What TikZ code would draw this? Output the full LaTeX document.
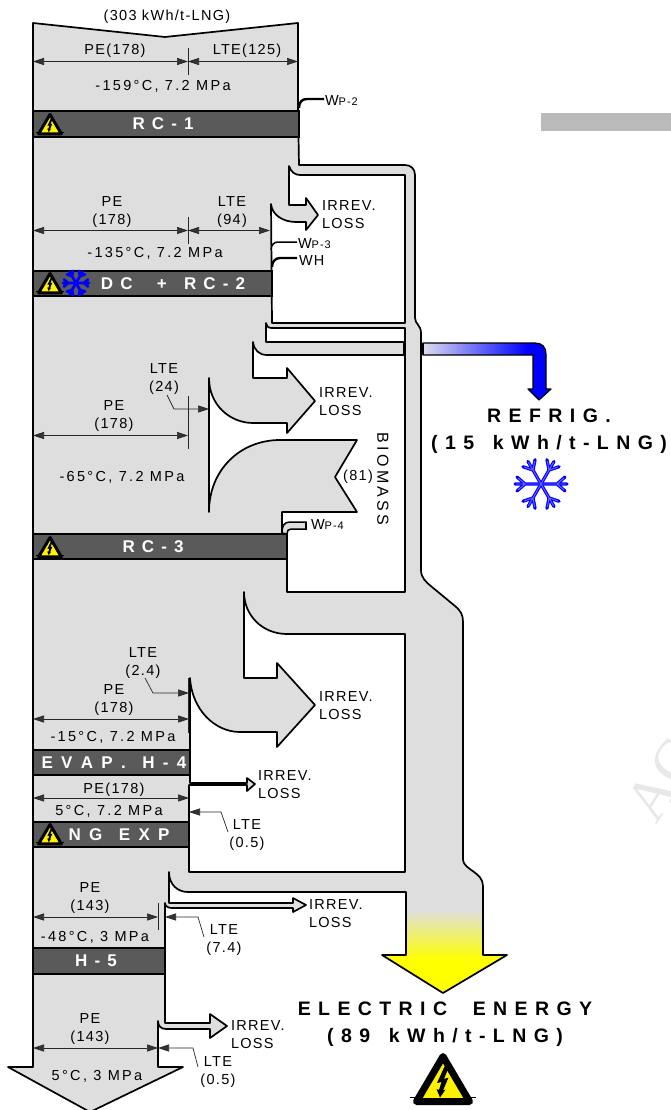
\documentclass[tikz,border=0pt]{standalone}
\usepackage{fontspec}
\setmainfont{Liberation Sans}
\newfontfamily\lsA[LetterSpace=9]{Liberation Sans}
\newfontfamily\lsD[LetterSpace=16]{Liberation Sans}
\newfontfamily\lsF[LetterSpace=20]{Liberation Sans}
\newfontfamily\lsB[LetterSpace=14]{Liberation Sans Bold}
\newfontfamily\lsC[LetterSpace=38]{Liberation Sans Bold}
\newfontfamily\lsE[LetterSpace=21]{Liberation Sans Bold}
\newfontfamily\wmk{Liberation Serif}
\usetikzlibrary{arrows.meta}
\definecolor{flow}{HTML}{DEDEDE}
\definecolor{barc}{HTML}{5A5A5A}
\definecolor{tipc}{HTML}{333333}
\definecolor{paleb}{HTML}{DDDDEE}
\pgfdeclarehorizontalshading{refrigshade}{100bp}{color(0bp)=(paleb); color(25bp)=(paleb); color(66bp)=(blue); color(100bp)=(blue)}
\pgfdeclareverticalshading{elecshade}{100bp}{color(0bp)=(yellow); color(45bp)=(yellow); color(75bp)=(flow); color(100bp)=(flow)}
\tikzset{
  outl/.style={draw=black,line width=1.7pt,line join=round},
  barbox/.style={draw=black,line width=1.7pt,fill=barc},
  bartxt/.style={inner sep=0,outer sep=0,yshift=-1pt,text=white,font=\lsB\fontsize{17}{18}\selectfont},
  txt/.style={inner sep=0,outer sep=0,yshift=-1.5pt,align=center,font=\lsA\fontsize{14.5}{18}\selectfont},
  temp/.style={inner sep=0,outer sep=0,yshift=-1.5pt,font=\lsD\fontsize{14.5}{18}\selectfont},
  irr/.style={inner sep=0,outer sep=0,yshift=-1pt,align=left,anchor=west,font=\lsA\fontsize{14.5}{18}\selectfont},
  wtxt/.style={inner sep=0,outer sep=0,yshift=-1pt,anchor=west,font=\lsA\fontsize{14.5}{16}\selectfont},
  bigtxt/.style={inner sep=0,outer sep=0,yshift=-2pt,font=\lsC\fontsize{19.5}{20}\selectfont},
  dim/.style={draw=black!85,line width=.7pt},
  dima/.style={dim,{Triangle[length=11pt,width=7pt,fill=tipc]}-{Triangle[length=11pt,width=7pt,fill=tipc]}},
  lead/.style={dim,-{Triangle[length=11pt,width=7pt,fill=tipc]}},
  pipe/.style={draw=black,line width=2.4pt},
  pipet/.style={draw=black,line width=1.5pt}
}
\newcommand{\warnicon}[3]{%
\begin{scope}[shift={(#1,#2)},scale=#3]
 \draw[black,line width=#3*0.7pt] (-33,15) -- (33,15);
 \draw[fill=yellow,draw=black,line width=#3*7pt,line join=round] (0,-25.5) -- (-26.5,19.5) -- (26.5,19.5) -- cycle;
 \fill[black] (1.5,-15.5) -- (-6,1) -- (-1.5,0) -- (-4,8) -- (-6.5,7) -- (-3,15.5) -- (2.5,7.5) -- (0,8.5) -- (5.5,-4.5) -- (1,-3) -- (6,-15.5) -- cycle;
\end{scope}}
\newcommand{\flakeicon}[5]{%
\begin{scope}[shift={(#1,#2)},scale=#3]
 \foreach \a in {0,60,...,300}{
  \draw[blue,line width=#4*1pt,line cap=round,rotate=\a] (0,0) -- (26,0) (16,0) -- (24,-7) (16,0) -- (24,7);
 }
 \foreach \a in {0,60,...,300}{
  \draw[#5,line width=#4*.3pt,rotate=\a] (0,0) -- (25,0) (16,0) -- (23,-6) (16,0) -- (23,6);
 }
\end{scope}}
\begin{document}
\begin{tikzpicture}[x=1pt,y=-1pt]
\useasboundingbox (0,0) rectangle (671,1110);
% watermark & grey strip
\begin{scope}
 \clip (0,0) rectangle (671,1110);
 \node[rotate=57,inner sep=0,text=black!9,font=\wmk\fontsize{60}{62}\selectfont] (wm) at (663,780) {AC};
\end{scope}
\fill[black!27] (541,113) rectangle (671,131);
% main flow
\def\outerpath{(33,23) -- (165,37) -- (298,23) -- (298,108) -- (299,165) -- (405,165) .. controls (411,165) and (415,169) .. (415,175)
 -- (415,318) .. controls (415,324) and (421,325) .. (421,333) -- (421,570) .. controls (421,578) and (426,582) .. (432,587)
 -- (455,606) .. controls (461,611) and (463,615) .. (463,622) -- (463,860) .. controls (464,870) and (483,872) .. (483,886)
 -- (483,955) -- (507,955) -- (443,993) -- (382,955) -- (406,955) -- (406,892) -- (188,892) .. controls (178,892) and (169,885) .. (169,872)
 -- (169,903) -- (293,903) -- (293,898) -- (306,905) -- (293,912) -- (293,908) -- (172,908) .. controls (168,908) and (165,906) .. (165,903)
 -- (165,1023) -- (210,1023) -- (210,1014) -- (227,1026) -- (210,1038) -- (210,1029) -- (166,1029) .. controls (161,1029) and (158,1026) .. (158,1021)
 -- (158,1067) -- (183,1067) -- (90,1112) -- (8,1067) -- (33,1067) -- cycle}
\fill[flow] \outerpath;
\shade[shading=elecshade] (406,910) -- (406,955) -- (382,955) -- (443,993) -- (507,955) -- (483,955) -- (483,910) -- cycle;
\draw[outl] \outerpath;
% white islands
\draw[outl,fill=white] (289,166) .. controls (291,172) and (295,175) .. (300,175) -- (405,175) -- (405,323) -- (272,323) -- (271,204)
 .. controls (272,215) and (283,222) .. (296,222) -- (306,222) -- (306,230) -- (318,215) -- (306,198) -- (306,205) -- (289,205) -- cycle;
\draw[outl,fill=white] (266,323) .. controls (266,326) and (268,328) .. (272,328) -- (405,328) -- (405,342) -- (266,342) -- cycle;
\draw[outl,fill=white] (253,342) .. controls (254,350) and (259,355) .. (267,355) -- (405,355) -- (405,592) -- (287,592) -- (287,534) -- (282,534) -- (282,512)
 -- (357,512) -- (335,477) -- (357,440) -- (280,440) .. controls (240,440) and (209,470) .. (209,512) -- (209,378)
 .. controls (209,405) and (230,423) .. (253,423) -- (287,423) -- (287,433) -- (315,401) -- (287,368) -- (287,378) -- (253,378) -- cycle;
\draw[outl,fill=white] (244,592) .. controls (244,615) and (262,634) .. (287,634) -- (405,634) -- (405,872) -- (189,872) -- (189,785) -- (247,785) -- (247,791)
 -- (255,784) -- (247,778) -- (247,783) -- (190,783) -- (190,678) .. controls (192,710) and (215,732) .. (240,732) -- (277,732) -- (277,747)
 -- (315,705) -- (277,663) -- (277,678) -- (244,678) -- cycle;
% joints on the band
\draw[black,line width=3pt] (404,342) -- (404,355);
% refrigeration stream
\path[shading=refrigshade,draw=black,line width=1.2pt,line join=round] (423,343) -- (535,343) .. controls (542,343) and (546,347) .. (546,354) -- (546,389) -- (551,389)
 -- (539,400) -- (528,389) -- (533,389) -- (533,355) -- (423,355) -- cycle;
\draw[black,line width=3pt] (422,343) -- (422,355);
% bars
\draw[barbox] (33,111) rectangle (299,137);
\draw[barbox] (33,271) rectangle (272,296);
\draw[barbox] (33,534) rectangle (287,559);
\draw[barbox] (33,750) rectangle (190,775);
\draw[barbox] (33,822) rectangle (189,847);
\draw[barbox] (33,948) rectangle (165,974);
% power / small pipes
\draw[pipe] (299,108) .. controls (299,102) and (302,99) .. (307,99) -- (324,99);
\draw[pipet] (271,250) .. controls (271,245) and (274,242) .. (278,242) -- (297,242);
\draw[pipe] (272,267) .. controls (272,262) and (275,258) .. (280,258) -- (297,258);
\draw[pipet,fill=flow] (282,533) .. controls (282,526) and (284,522) .. (290,522) -- (306,522) -- (306,529) -- (291,529) .. controls (288,529) and (287,531) .. (287,534) -- cycle;
\draw[black,line width=2pt] (306,522) -- (306,529);
% dimension lines
\draw[dima] (33,61.5) -- (188,61.5); \draw[dima] (188,61.5) -- (298,61.5); \draw[dim] (188,48) -- (188,75);
\draw[dima] (33,230.5) -- (188,230.5); \draw[dima] (188,230.5) -- (270,230.5); \draw[dim] (188,217) -- (188,244);
\draw[dima] (33,435.5) -- (188,435.5); \draw[dim] (188,396) -- (188,449);
\draw[lead] (167,395) -- (174,409) -- (209,409);
\draw[dima] (33,719) -- (189,719); \draw[dim] (188.5,678) -- (188.5,733);
\draw[lead] (145,678) -- (153,693) -- (189,693);
\draw[dima] (33,798) -- (189,798);
\draw[lead] (228,832) -- (221,812) -- (189,812);
\draw[dima] (33,917) -- (158,917); \draw[dim] (158,903) -- (158,930);
\draw[lead] (204,937) -- (198,917) -- (165,917);
\draw[dima] (33,1048) -- (158,1048);
\draw[lead] (198,1067) -- (193,1048) -- (158,1048);
% texts
\node[txt] (t01) at (167,15) {(303 kWh/t-LNG)};
\node[txt] (t02) at (115,49) {PE(178)};
\node[txt] (t03) at (247,49) {LTE(125)};
\node[temp] (t04) at (163,85) {-159°C, 7.2 MPa};
\node[wtxt] (t05) at (325,100) {W{\fontsize{11}{12}\selectfont P-2}};
\node[bartxt] (t06) at (163,123) {R C - 1};
\node[txt] (t07) at (112,210.5) {PE\\(178)};
\node[txt] (t08) at (232,210.5) {LTE\\(94)};
\node[irr] (t09) at (322,214) {IRREV.\\LOSS};
\node[wtxt] (t10) at (298,243) {W{\fontsize{11}{12}\selectfont P-3}};
\node[wtxt] (t11) at (299,260) {WH};
\node[temp] (t12) at (155,252) {-135°C, 7.2 MPa};
\node[bartxt] (t13) at (173,283) {D C\ \ \ \hspace{3pt}+\ \ \hspace{3pt}R C - 2};
\node[txt] (t14) at (164,378) {LTE\\(24)};
\node[txt] (t15) at (114,415) {PE\\(178)};
\node[irr] (t16) at (319,400.5) {IRREV.\\LOSS};
\node[temp] (t17) at (122,476) {-65°C, 7.2 MPa};
\node[txt] (t18) at (358,475) {(81)};
\node[rotate=-90,inner sep=0,font=\lsF\fontsize{16}{18}\selectfont] (t19) at (383,479) {BIOMASS};
\node[wtxt] (t20) at (311,524) {W{\fontsize{11}{12}\selectfont P-4}};
\node[bartxt] (t21) at (153,546) {R C - 3};
\node[txt] (t22) at (143,662) {LTE\\(2.4)};
\node[txt] (t23) at (114,699) {PE\\(178)};
\node[irr] (t24) at (319,705) {IRREV.\\LOSS};
\node[temp] (t25) at (113,736) {-15°C, 7.2 MPa};
\node[bartxt,font=\lsE\fontsize{17}{18}\selectfont] (t26) at (114,762) {E V A P .\ \ H - 4};
\node[irr] (t27) at (258,784) {IRREV.\\LOSS};
\node[txt] (t28) at (114,788) {PE(178)};
\node[temp] (t29) at (109,810) {5°C, 7.2 MPa};
\node[txt] (t30) at (247,834) {LTE\\(0.5)};
\node[bartxt,font=\lsE\fontsize{17}{18}\selectfont] (t31) at (119,834) {N G\ \ E X P};
\node[txt] (t32) at (90,897) {PE\\(143)};
\node[irr] (t33) at (309,912.5) {IRREV.\\LOSS};
\node[temp] (t34) at (95,936) {-48°C, 3 MPa};
\node[txt] (t35) at (224,939) {LTE\\(7.4)};
\node[bartxt] (t36) at (96,960) {H - 5};
\node[txt] (t37) at (90,1028) {PE\\(143)};
\node[irr] (t38) at (231,1033.5) {IRREV.\\LOSS};
\node[txt] (t39) at (218,1070) {LTE\\(0.5)};
\node[temp] (t40) at (97,1075) {5°C, 3 MPa};
\node[bigtxt] (t41) at (445,1007) {ELECTRIC\ \ ENERGY};
\node[bigtxt] (t42) at (445,1035) {(89\hspace{6pt} kWh/t-LNG)};
\node[bigtxt] (t43) at (549,414) {REFRIG.};
\node[bigtxt] (t44) at (549,442) {(15\hspace{6pt} kWh/t-LNG)};
% icons
\warnicon{50}{125.5}{0.43}
\warnicon{50}{284.5}{0.43}
\warnicon{50}{548.5}{0.43}
\warnicon{50}{835.5}{0.43}
\warnicon{443}{1082}{1}
\flakeicon{76}{283}{0.5}{2.8}{blue}
\flakeicon{541}{484}{1}{3.2}{blue!60!white}
\end{tikzpicture}
\end{document}
